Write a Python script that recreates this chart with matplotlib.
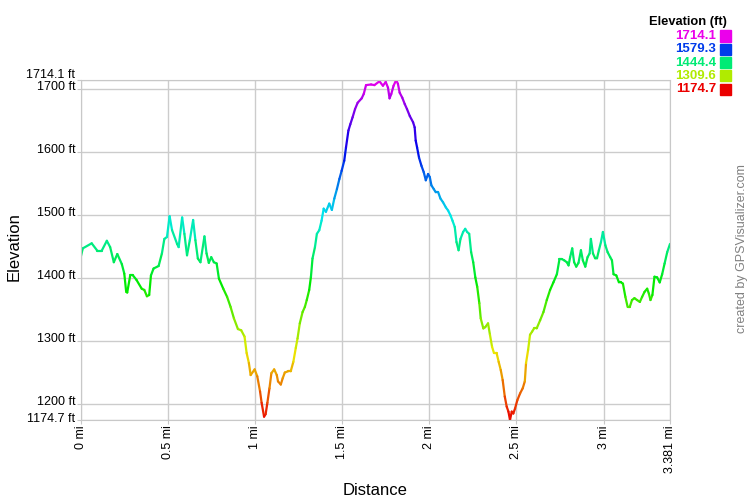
import matplotlib
matplotlib.use('Agg')
import matplotlib.pyplot as plt
from matplotlib.collections import LineCollection
from matplotlib.patches import Rectangle
import matplotlib.colors as mcolors
import numpy as np

plt.rcParams['font.family'] = ['Liberation Sans', 'DejaVu Sans']

# distance (mi) / elevation (ft)
dist = [0.0, 0.012, 0.063, 0.096, 0.12, 0.15, 0.169, 0.19, 0.21, 0.236, 0.25, 0.261, 0.267,
        0.284, 0.3, 0.32, 0.35, 0.365, 0.38, 0.393, 0.403, 0.418, 0.447, 0.466, 0.48, 0.495,
        0.51, 0.524, 0.553, 0.562, 0.582, 0.595, 0.61, 0.626, 0.645, 0.658, 0.672, 0.687,
        0.71, 0.722, 0.735, 0.749, 0.764, 0.78, 0.793, 0.818, 0.84, 0.86, 0.879, 0.902,
        0.921, 0.94, 0.952, 0.965, 0.975, 0.998, 1.013, 1.029, 1.038, 1.052, 1.061, 1.071,
        1.083, 1.094, 1.11, 1.125, 1.132, 1.148, 1.159, 1.171, 1.19, 1.205, 1.22, 1.234,
        1.244, 1.257, 1.273, 1.286, 1.297, 1.311, 1.321, 1.33, 1.344, 1.355, 1.369, 1.382,
        1.394, 1.407, 1.426, 1.441, 1.455, 1.47, 1.484, 1.497, 1.512, 1.522, 1.536, 1.547,
        1.56, 1.574, 1.589, 1.612, 1.624, 1.637, 1.666, 1.685, 1.714, 1.734, 1.75, 1.763,
        1.772, 1.782, 1.795, 1.81, 1.82, 1.83, 1.845, 1.859, 1.872, 1.888, 1.907, 1.916,
        1.922, 1.93, 1.941, 1.955, 1.968, 1.98, 1.993, 2.003, 2.012, 2.026, 2.037, 2.051,
        2.064, 2.079, 2.095, 2.108, 2.122, 2.133, 2.146, 2.156, 2.168, 2.179, 2.194, 2.206,
        2.217, 2.229, 2.24, 2.252, 2.264, 2.275, 2.287, 2.295, 2.31, 2.321, 2.337, 2.348,
        2.36, 2.371, 2.386, 2.398, 2.41, 2.421, 2.433, 2.444, 2.454, 2.463, 2.473, 2.482,
        2.492, 2.505, 2.521, 2.536, 2.548, 2.555, 2.567, 2.578, 2.59, 2.601, 2.616, 2.636,
        2.655, 2.674, 2.693, 2.712, 2.732, 2.747, 2.76, 2.774, 2.789, 2.799, 2.808, 2.82,
        2.831, 2.843, 2.856, 2.87, 2.881, 2.895, 2.908, 2.92, 2.927, 2.939, 2.952, 2.962,
        2.973, 2.985, 2.996, 3.01, 3.023, 3.038, 3.048, 3.057, 3.073, 3.088, 3.1, 3.111,
        3.125, 3.138, 3.15, 3.163, 3.177, 3.192, 3.208, 3.221, 3.235, 3.25, 3.26, 3.269,
        3.28, 3.292, 3.307, 3.322, 3.336, 3.35, 3.365, 3.381]
elev = [1433, 1447, 1455, 1443, 1443, 1459, 1449, 1425, 1438, 1422, 1407, 1378, 1377,
        1404, 1404, 1397, 1383, 1381, 1371, 1373, 1404, 1415, 1419, 1439, 1462, 1465,
        1498, 1476, 1454, 1449, 1496, 1470, 1436, 1460, 1492, 1460, 1431, 1425,
        1466, 1439, 1424, 1433, 1425, 1423, 1399, 1383, 1370, 1354, 1336, 1319,
        1317, 1307, 1281, 1265, 1246, 1255, 1244, 1220, 1202, 1180, 1184, 1202,
        1225, 1249, 1255, 1246, 1236, 1231, 1241, 1250, 1252, 1252, 1267, 1289,
        1304, 1328, 1346, 1354, 1365, 1381, 1402, 1431, 1449, 1470, 1476, 1491,
        1510, 1505, 1518, 1508, 1526, 1541, 1557, 1570, 1586, 1607, 1634, 1644,
        1655, 1668, 1678, 1685, 1692, 1706, 1707, 1706, 1712, 1705, 1711, 1702,
        1685, 1692, 1705, 1714, 1708, 1694, 1686, 1676, 1668, 1657, 1647, 1639,
        1618, 1607, 1591, 1578, 1568, 1555, 1565, 1560, 1547, 1541, 1536, 1536,
        1526, 1520, 1512, 1507, 1499, 1491, 1481, 1457, 1444, 1462, 1473, 1478,
        1473, 1470, 1441, 1425, 1401, 1386, 1360, 1336, 1320, 1322, 1328, 1310,
        1291, 1281, 1281, 1267, 1254, 1238, 1212, 1196, 1188, 1174.7, 1188, 1185,
        1193, 1206, 1217, 1225, 1236, 1265, 1286, 1310, 1315, 1320, 1320, 1333,
        1346, 1365, 1381, 1393, 1406, 1430, 1430, 1428, 1425, 1420, 1433, 1447,
        1425, 1418, 1424, 1444, 1428, 1418, 1433, 1439, 1462, 1439, 1431, 1431,
        1444, 1457, 1473, 1452, 1441, 1433, 1428, 1406, 1404, 1393, 1393, 1391,
        1370, 1354, 1354, 1365, 1368, 1365, 1362, 1370, 1378, 1383, 1375, 1365,
        1373, 1402, 1401, 1393, 1406, 1423, 1441, 1454]

emin, emax = 1174.7, 1714.1
legend_vals = [1714.1, 1579.3, 1444.4, 1309.6, 1174.7]
ytick_vals = [1200, 1300, 1400, 1500, 1600, 1700]
xtick_vals = [0, 0.5, 1, 1.5, 2, 2.5, 3]
dmax = 3.381


def elev_color(e):
    h = (e - emin) / (emax - emin) * 300.0 / 360.0
    return mcolors.hsv_to_rgb((h, 1.0, 0.92))


fig = plt.figure(figsize=(7.5, 5), dpi=100)
ax = fig.add_axes([80.7 / 750, 0.16, (670 - 80.7) / 750, 0.68])

d = np.array(dist)
e = np.array(elev, dtype=float)
pts = np.column_stack([d, e]).reshape(-1, 1, 2)
segs = np.concatenate([pts[:-1], pts[1:]], axis=1)
cols = [elev_color((e[i] + e[i + 1]) / 2) for i in range(len(e) - 1)]
lc = LineCollection(segs, colors=cols, linewidths=1.6, capstyle='round')
ax.add_collection(lc)

ax.set_xlim(0, dmax)
ax.set_ylim(emin, emax)

# y labels drawn as annotations so they can sit a little above their gridlines
yt = [emin] + ytick_vals + [emax]
ax.set_yticks(yt)
ax.set_yticklabels([])
for v in yt:
    dy = 1.5
    if v == emax:
        dy = 3.5
    elif v == emin:
        dy = 0.5
    ax.annotate('%g ft' % v, xy=(0, v), xycoords=('axes fraction', 'data'),
                xytext=(-4, dy), textcoords='offset points',
                ha='right', va='center', fontsize=9)

xt = xtick_vals + [dmax]
ax.set_xticks(xt)
ax.set_xticklabels(['%g mi' % v for v in xt], fontsize=9, rotation=90)
ax.tick_params(length=3, color='#c8c8c8', pad=1)
ax.grid(True, color='#cccccc', linewidth=1)
ax.set_axisbelow(True)
for sp in ax.spines.values():
    sp.set_color('#c8c8c8')

ax.set_ylabel('Elevation', fontsize=12)
ax.yaxis.set_label_coords(-0.1, 0.51)
ax.set_xlabel('Distance', fontsize=12, labelpad=7)

# colour key, top right
fig.text(727 / 750, 1 - 22 / 500, 'Elevation (ft)', ha='right', va='center',
         fontsize=9.3, fontweight='bold')
for i, v in enumerate(legend_vals):
    yy = 1 - (36 + 13.3 * i) / 500
    c = elev_color(v)
    fig.text(716 / 750, yy, '%.1f' % v, ha='right', va='center',
             fontsize=9.5, fontweight='bold', color=c)
    fig.add_artist(Rectangle((720 / 750, yy - 5.5 / 500), 11 / 750, 11 / 500,
                             transform=fig.transFigure, color=c))

fig.text(742 / 750, 1 - 249 / 500, 'created by GPSVisualizer.com', rotation=90,
         ha='center', va='center', fontsize=9, color='#808080')

plt.savefig('out.png', dpi=100)
